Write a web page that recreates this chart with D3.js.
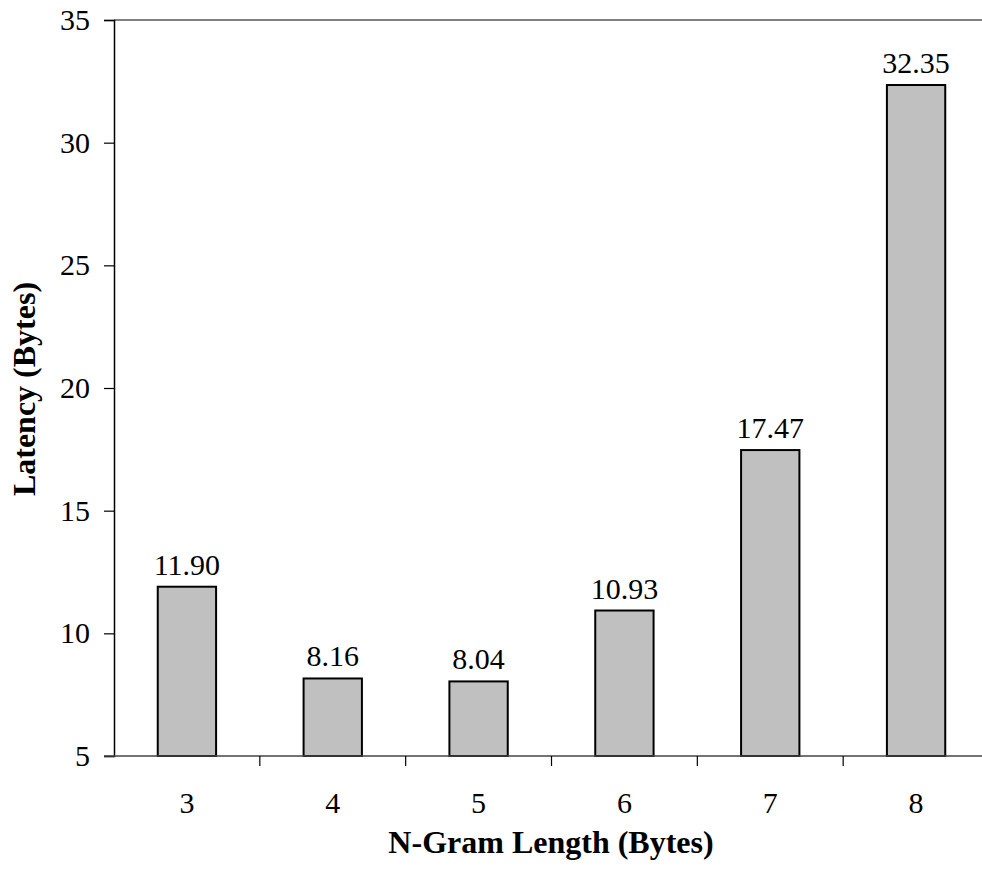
<!DOCTYPE html>
<html>
<head>
<meta charset="utf-8">
<script src="https://cdn.jsdelivr.net/npm/d3@7"></script>
<style>
	body { margin: 0; background: #fff; }
	svg text { font-family: "Liberation Serif", "Times New Roman", serif; fill: #000; }
</style>
</head>
<body>
<div id="chart"></div>
<script>
// chart data
const lengths = ['3', '4', '5', '6', '7', '8'];
const latency = [11.90, 8.16, 8.04, 10.93, 17.47, 32.35];
const yTicks = [5, 10, 15, 20, 25, 30, 35];

// configure graph
const width = 982;
const height = 878;
const margin = { left: 114, top: 20, right: -7, bottom: 122 };
const fontSize = 30;

const svg = d3.select('#chart').append('svg')
	.attr('width', width).attr('height', height);

const x = d3.scaleBand()
	.domain(lengths)
	.range([margin.left, width - margin.right])
	.paddingInner(0.6).paddingOuter(0.3);
// band boundaries for the tick marks
const step = x.step();
const x0 = margin.left;

const y = d3.scaleLinear()
	.domain([5, 35])
	.range([height - margin.bottom, margin.top]);

// top frame line
svg.append('line')
	.attr('x1', x0).attr('x2', width)
	.attr('y1', y(35)).attr('y2', y(35))
	.attr('stroke', '#808080').attr('stroke-width', 2);

// bars
svg.append('g').selectAll('rect')
	.data(latency).enter().append('rect')
	.attr('x', (d, i) => x(lengths[i]))
	.attr('y', d => y(d))
	.attr('width', x.bandwidth())
	.attr('height', d => y(5) - y(d))
	.attr('fill', '#c0c0c0')
	.attr('stroke', '#000').attr('stroke-width', 2);

// value labels
svg.append('g').selectAll('text')
	.data(latency).enter().append('text')
	.attr('x', (d, i) => x(lengths[i]) + x.bandwidth() / 2)
	.attr('y', d => y(d) - 12)
	.attr('text-anchor', 'middle')
	.attr('font-size', fontSize)
	.text(d => d.toFixed(2));

// y axis
const yAxis = svg.append('g')
	.attr('transform', 'translate(' + x0 + ',0)')
	.call(d3.axisLeft(y).tickValues(yTicks).tickSize(10).tickPadding(14));
yAxis.select('.domain').attr('stroke', '#000').attr('stroke-width', 1.5);
yAxis.selectAll('.tick line').attr('stroke', '#000').attr('stroke-width', 1.2);
yAxis.selectAll('.tick text').attr('font-size', fontSize);

// x axis: baseline, boundary ticks, centred labels
const base = y(5);
svg.append('line')
	.attr('x1', x0 - 10).attr('x2', width)
	.attr('y1', base).attr('y2', base)
	.attr('stroke', '#444').attr('stroke-width', 1.5);
svg.append('g').selectAll('line')
	.data(d3.range(1, lengths.length)).enter().append('line')
	.attr('x1', k => x0 + k * step).attr('x2', k => x0 + k * step)
	.attr('y1', base).attr('y2', base + 10)
	.attr('stroke', '#000').attr('stroke-width', 1.2);
svg.append('g').selectAll('text')
	.data(lengths).enter().append('text')
	.attr('x', d => x(d) + x.bandwidth() / 2)
	.attr('y', base + 57)
	.attr('text-anchor', 'middle')
	.attr('font-size', fontSize)
	.text(d => d);

// axis titles
svg.append('text')
	.attr('x', 551).attr('y', 853)
	.attr('text-anchor', 'middle')
	.attr('font-size', 32).attr('font-weight', 'bold')
	.text('N-Gram Length (Bytes)');
svg.append('text')
	.attr('transform', 'translate(35,389) rotate(-90)')
	.attr('text-anchor', 'middle')
	.attr('font-size', 32).attr('font-weight', 'bold')
	.text('Latency (Bytes)');
</script>
</body>
</html>
